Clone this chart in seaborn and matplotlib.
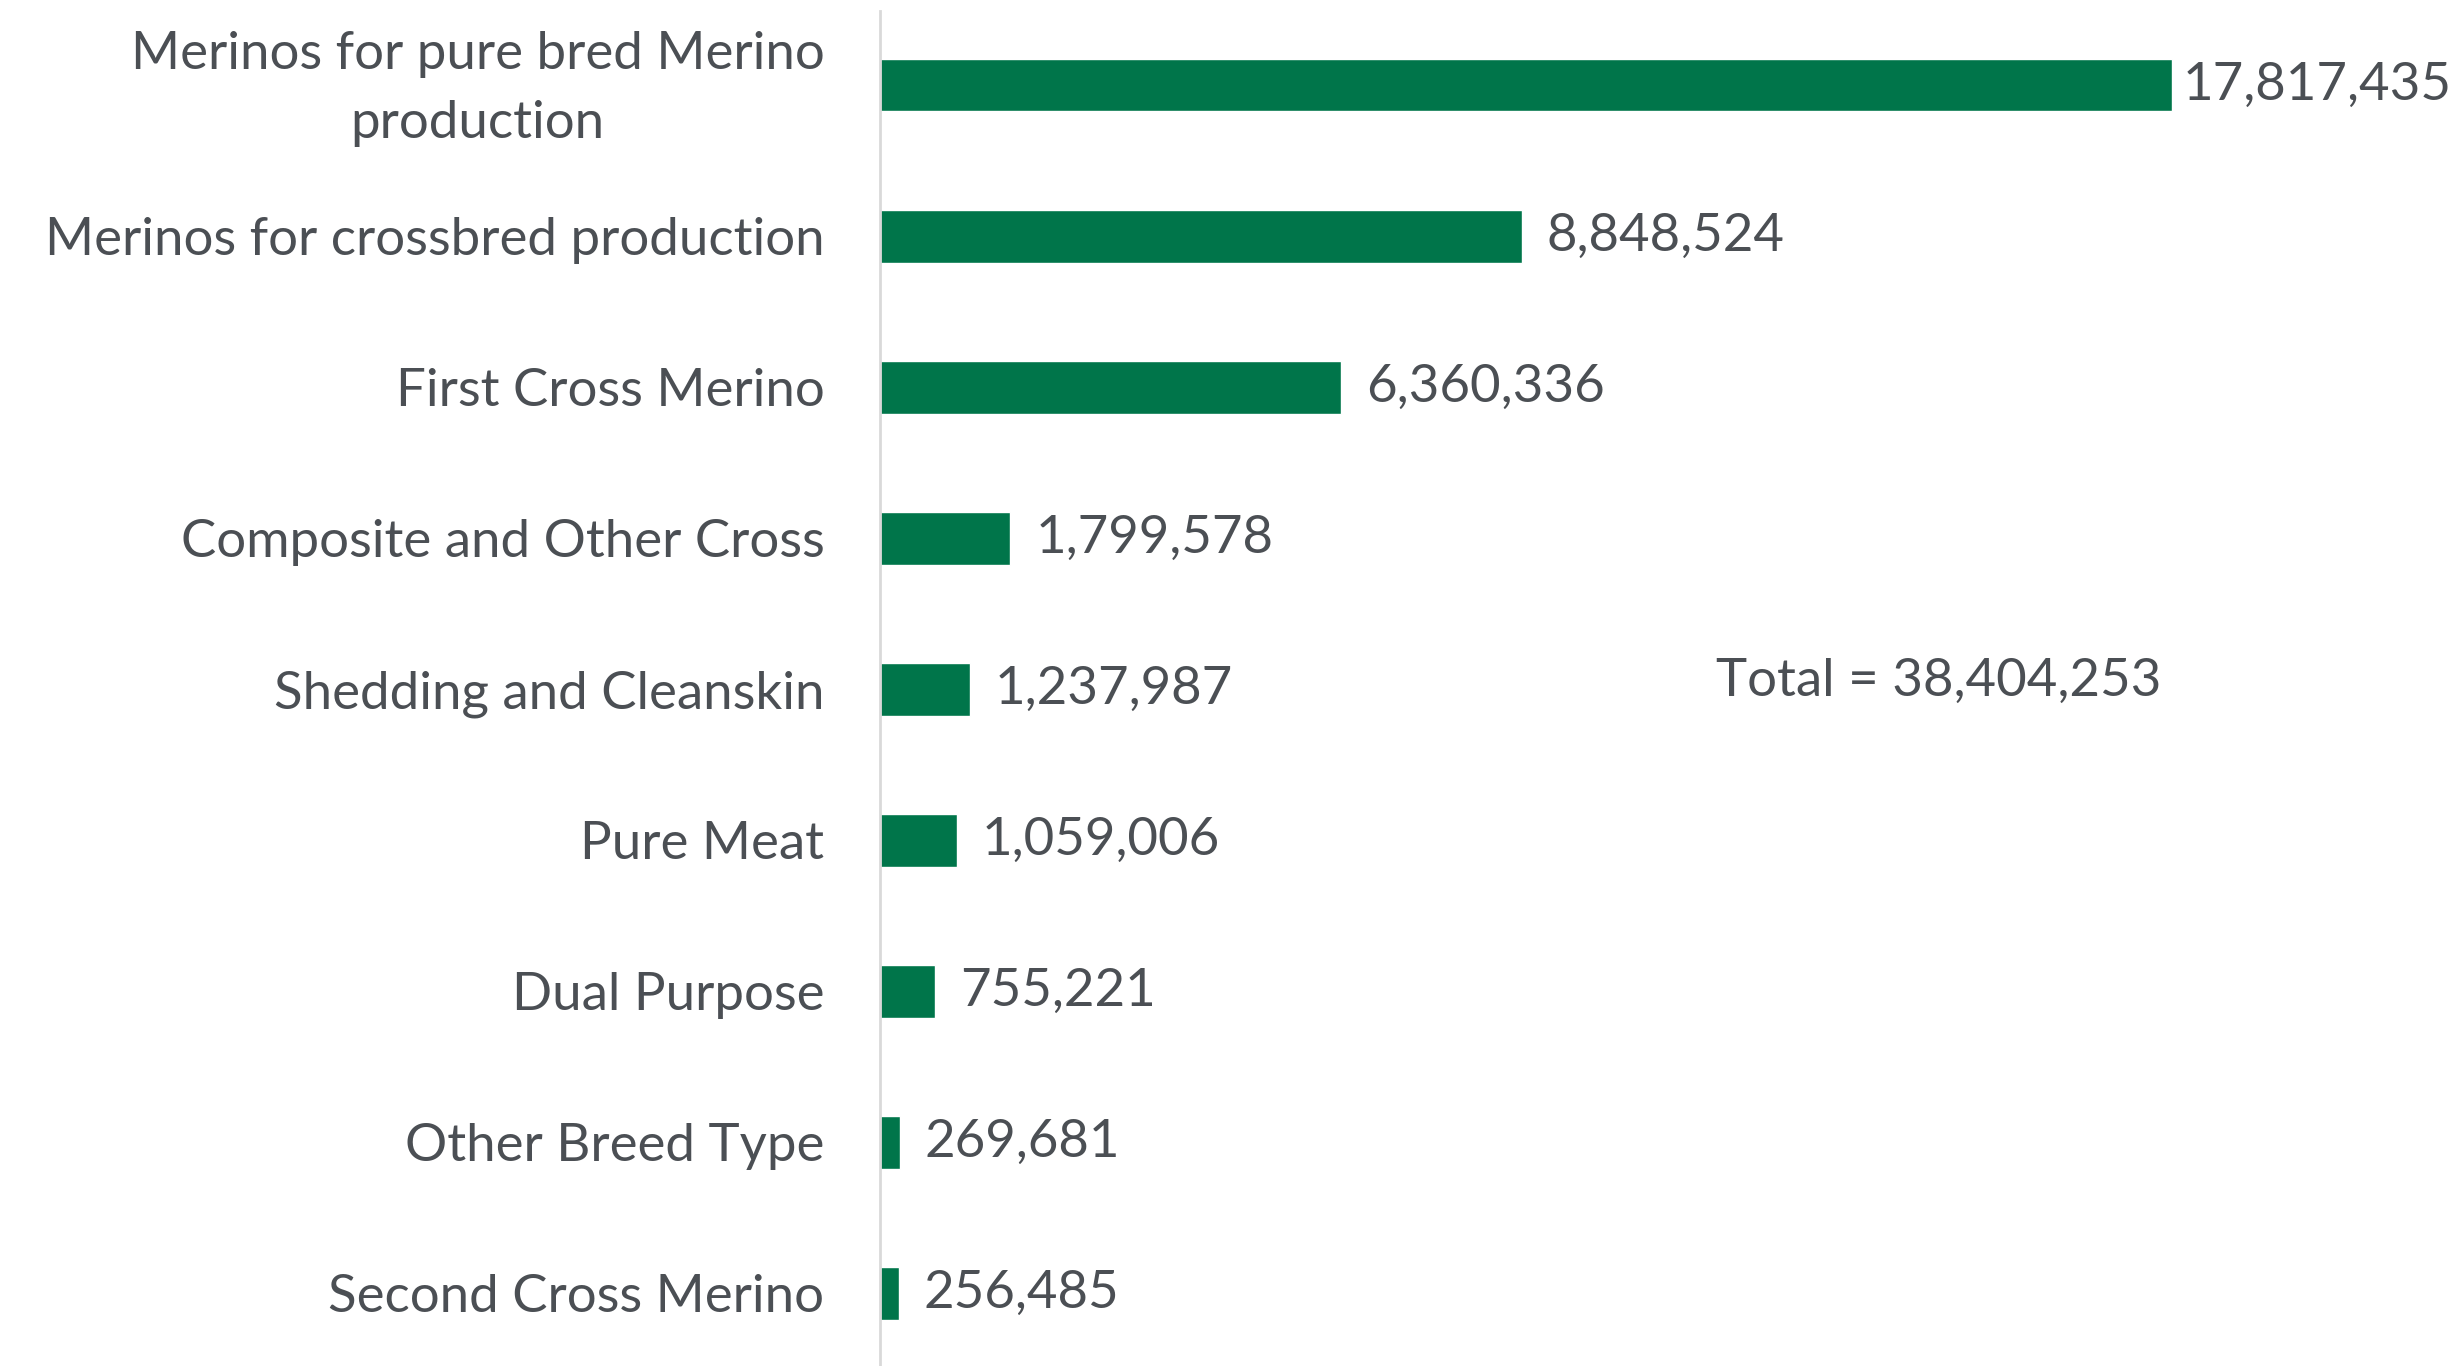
import matplotlib
matplotlib.use("Agg")
import matplotlib.pyplot as plt
import matplotlib.transforms as mtransforms
import seaborn as sns
import pandas as pd

categories = [
    "Merinos for pure bred Merino\nproduction",
    "Merinos for crossbred production",
    "First Cross Merino",
    "Composite and Other Cross",
    "Shedding and Cleanskin",
    "Pure Meat",
    "Dual Purpose",
    "Other Breed Type",
    "Second Cross Merino",
]
values = [17817435, 8848524, 6360336, 1799578, 1237987, 1059006, 755221, 269681, 256485]
total_label = "Total = 38,404,253"

BAR = "#00754A"
TXT = "#4B4F54"
FS = 38

sns.set_theme(style="white")
plt.rcParams["font.family"] = ["Lato", "DejaVu Sans"]

df = pd.DataFrame({"cat": categories, "val": values})

W, H = 2460, 1366
fig = plt.figure(figsize=(W / 100, H / 100), dpi=100)
AX0 = 880
ax = fig.add_axes([AX0 / W, 0, 1 - AX0 / W, (H - 11) / H])

sns.barplot(data=df, y="cat", x="val", color=BAR, width=0.35, orient="h", ax=ax,
            saturation=1)

ax.set_xlim(0, 17817435 * (W - AX0) / (2172 - AX0))
ax.set_ylim(8.48, -0.49)
ax.set_xlabel("")
ax.set_ylabel("")
ax.set_xticks([])
for s in ["top", "right", "bottom"]:
    ax.spines[s].set_visible(False)
ax.spines["left"].set_color("#D9D9D9")
ax.spines["left"].set_linewidth(2)
ax.tick_params(axis="y", length=0, pad=40, labelsize=FS, labelcolor=TXT)
for lab in ax.get_yticklabels():
    lab.set_multialignment("center")
    lab.set_linespacing(1.6)
first_lab = ax.get_yticklabels()[0]
first_lab.set_transform(first_lab.get_transform()
                        + mtransforms.ScaledTranslation(0, 0.12, fig.dpi_scale_trans))

labels = [f"{v:,}" for v in values]
for c in ax.containers:
    first = [labels[0]] + [""] * (len(labels) - 1)
    rest = [""] + labels[1:]
    ax.bar_label(c, labels=first, padding=8, fontsize=FS, color=TXT)
    ax.bar_label(c, labels=rest, padding=18, fontsize=FS, color=TXT)

fig.text(1939 / W, 1 - 681 / H, total_label, ha="center", va="center", fontsize=FS, color=TXT)

fig.savefig("out.png", dpi=100, facecolor="white")
